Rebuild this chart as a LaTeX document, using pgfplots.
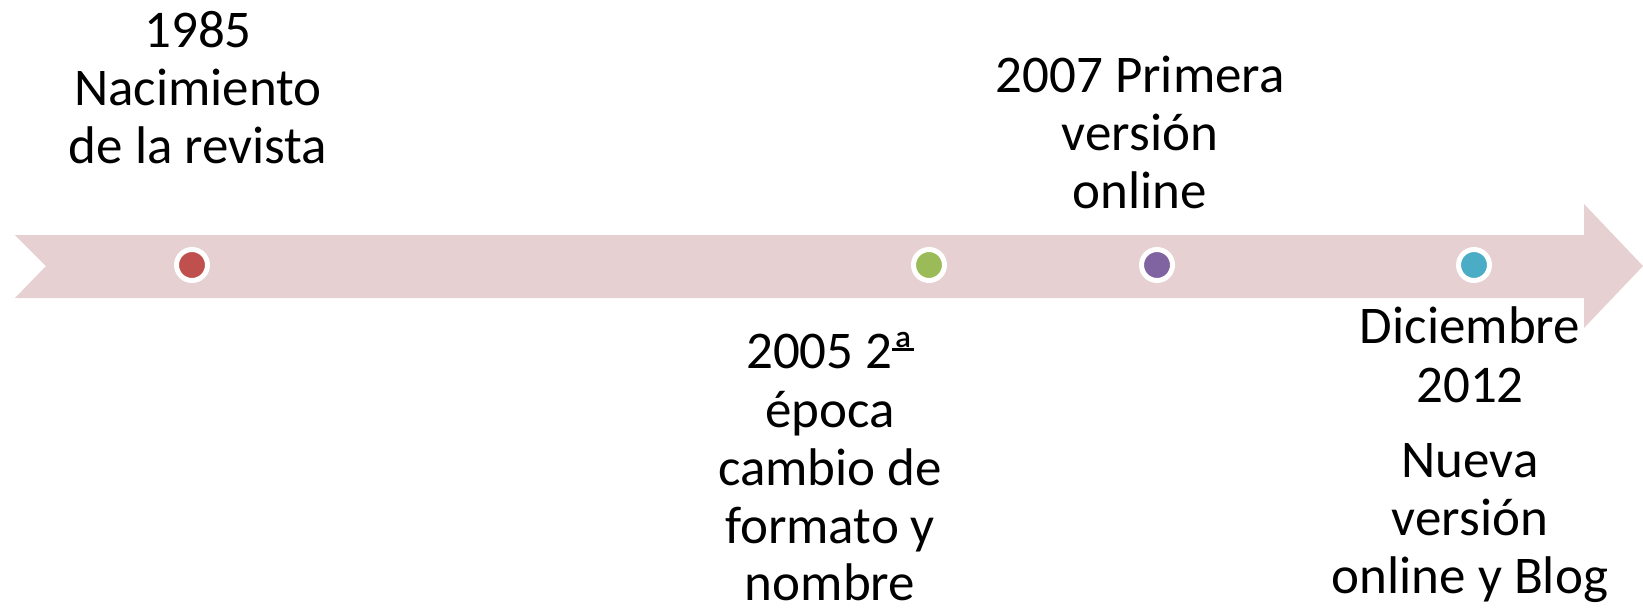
\documentclass[border=0pt]{standalone}
\usepackage{pgfplots}
\pgfplotsset{compat=1.18}
\usepackage{fontspec}
\setmainfont{Carlito}
\definecolor{arrowc}{HTML}{E7D0D1}
\definecolor{cred}{HTML}{C0504D}
\definecolor{cgreen}{HTML}{9BBB59}
\definecolor{cpurple}{HTML}{8064A2}
\definecolor{ccyan}{HTML}{4BACC6}
\tikzset{lbl/.style={font=\fontsize{53}{58}\selectfont, anchor=base, inner sep=0pt}}
\newcommand{\ordA}{{\setbox0\hbox{ª}\rlap{\rule[0.33em]{\wd0}{0.045em}}\box0}}
\begin{document}
\begin{tikzpicture}
\begin{axis}[
  scale only axis, width=1643pt, height=611pt,
  xmin=0, xmax=1643, ymin=0, ymax=611, y dir=reverse,
  hide axis, clip=false
]
\addplot[fill=arrowc, draw=none] coordinates {(15,235) (1584,235) (1584,204) (1643,266) (1584,328) (1584,298) (15,298) (46,266)} -- cycle;
\addplot[only marks, mark=*, mark size=15.5pt, mark options={fill=cred, draw=white, line width=5pt}] coordinates {(192,265)};
\addplot[only marks, mark=*, mark size=15.5pt, mark options={fill=cgreen, draw=white, line width=5pt}] coordinates {(929,265)};
\addplot[only marks, mark=*, mark size=15.5pt, mark options={fill=cpurple, draw=white, line width=5pt}] coordinates {(1157,265)};
\addplot[only marks, mark=*, mark size=15.5pt, mark options={fill=ccyan, draw=white, line width=5pt}] coordinates {(1474,265)};
% 1985
\node[lbl] at (axis cs:198,47) {1985};
\node[lbl] at (axis cs:198,105) {Nacimiento};
\node[lbl] at (axis cs:198,163) {de la revista};
% 2005
\node[lbl] at (axis cs:830,368) {2005 2\ordA};
\node[lbl] at (axis cs:830,427) {época};
\node[lbl] at (axis cs:830,485) {cambio de};
\node[lbl] at (axis cs:830,543) {formato y};
\node[lbl] at (axis cs:830,600) {nombre};
% 2007
\node[lbl] at (axis cs:1140,92) {2007 Primera};
\node[lbl] at (axis cs:1140,150) {versión};
\node[lbl] at (axis cs:1140,208) {online};
% 2012
\node[lbl] at (axis cs:1470,343) {Diciembre};
\node[lbl] at (axis cs:1470,402) {2012};
\node[lbl] at (axis cs:1470,477) {Nueva};
\node[lbl] at (axis cs:1470,535) {versión};
\node[lbl] at (axis cs:1470,593) {online y Blog};
\end{axis}
\pgfresetboundingbox
\path[use as bounding box] (current axis.south west) rectangle (current axis.north east);
\end{tikzpicture}
\end{document}
